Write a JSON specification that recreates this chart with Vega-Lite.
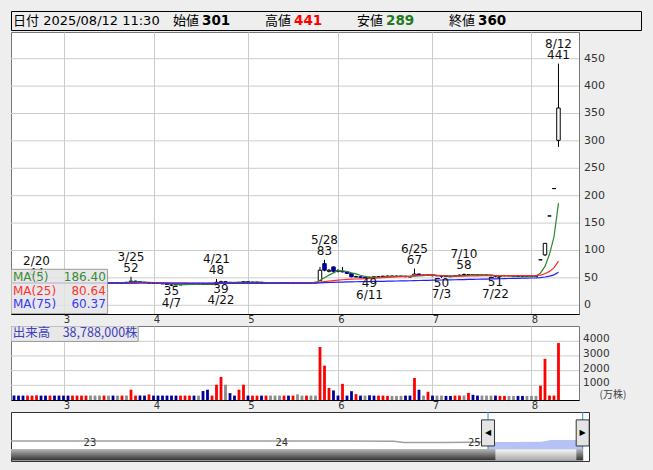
{
"$schema": "https://vega.github.io/schema/vega-lite/v6.json",
"background": "#eeeeee",
"padding": {"left": 10, "top": 10, "right": 13, "bottom": 11},
"spacing": 0,
"resolve": {"scale": {"color": "independent", "x": "independent", "y": "independent"}},
"config": {
  "view": {"stroke": null},
  "scale": {"continuousPadding": 0},
  "axis": {"labelFont": "DejaVu Sans", "labelFontSize": 11, "labelColor": "#333333", "ticks": false, "tickSize": 0, "domain": false, "gridColor": "#cccccc", "gridWidth": 1, "title": null, "labelOverlap": false, "labelFlush": false},
  "text": {"font": "DejaVu Sans"}
},
"datasets": {
  "hdr": [{"k": "始値", "v": "301"}, {"k": "高値", "v": "441"}, {"k": "安値", "v": "289"}, {"k": "終値", "v": "360"}],
  "pt": [{"t": 0}, {"t": 50}, {"t": 100}, {"t": 150}, {"t": 200}, {"t": 250}, {"t": 300}, {"t": 350}, {"t": 400}, {"t": 450}],
  "vt": [{"t": 1000}, {"t": 2000}, {"t": 3000}, {"t": 4000}],
  "hi": [{"i": 5, "p": 44, "t": "2/20\n44"}, {"i": 26, "p": 52, "t": "3/25\n52"}, {"i": 45, "p": 48, "t": "4/21\n48"}, {"i": 69, "p": 83, "t": "5/28\n83"}, {"i": 89, "p": 67, "t": "6/25\n67"}, {"i": 100, "p": 58, "t": "7/10\n58"}, {"i": 121, "p": 441, "t": "8/12\n441"}],
  "lo": [{"i": 35, "p": 35, "t": "35\n4/7"}, {"i": 46, "p": 39, "t": "39\n4/22"}, {"i": 79, "p": 49, "t": "49\n6/11"}, {"i": 95, "p": 50, "t": "50\n7/3"}, {"i": 107, "p": 51, "t": "51\n7/22"}],
  "leg": [{"r": 1, "n": "MA(5)", "v": "186.40"}, {"r": 2, "n": "MA(25)", "v": "80.64"}, {"r": 3, "n": "MA(75)", "v": "60.37"}],
  "d": [
{"i":0,"d":"2/13","o":41,"h":42,"l":40,"c":41,"v":310,"vd":"d","m5":41,"m25":41,"m75":40.51},
{"i":1,"d":"2/14","o":41,"h":42,"l":41,"c":41,"v":300,"vd":"d","m5":41,"m25":41,"m75":40.51},
{"i":2,"d":"2/17","o":41,"h":41,"l":40,"c":40,"v":300,"vd":"d","m5":40.8,"m25":40.96,"m75":40.51},
{"i":3,"d":"2/18","o":40,"h":41,"l":40,"c":40,"v":300,"vd":"u","m5":40.6,"m25":40.92,"m75":40.51},
{"i":4,"d":"2/19","o":40,"h":41,"l":40,"c":41,"v":300,"vd":"u","m5":40.6,"m25":40.92,"m75":40.51},
{"i":5,"d":"2/20","o":41,"h":44,"l":41,"c":42,"v":320,"vd":"u","m5":40.8,"m25":40.96,"m75":40.53},
{"i":6,"d":"2/21","o":42,"h":42,"l":41,"c":41,"v":300,"vd":"d","m5":40.8,"m25":40.96,"m75":40.53},
{"i":7,"d":"2/25","o":41,"h":42,"l":41,"c":41,"v":300,"vd":"d","m5":41,"m25":40.96,"m75":40.53},
{"i":8,"d":"2/26","o":41,"h":41,"l":40,"c":40,"v":300,"vd":"u","m5":41,"m25":40.92,"m75":40.53},
{"i":9,"d":"2/27","o":40,"h":41,"l":40,"c":40,"v":300,"vd":"d","m5":40.8,"m25":40.88,"m75":40.53},
{"i":10,"d":"2/28","o":40,"h":41,"l":39,"c":40,"v":300,"vd":"d","m5":40.4,"m25":40.84,"m75":40.52},
{"i":11,"d":"3/3","o":40,"h":41,"l":40,"c":40,"v":300,"vd":"d","m5":40.2,"m25":40.8,"m75":40.52},
{"i":12,"d":"3/4","o":40,"h":40,"l":39,"c":40,"v":300,"vd":"d","m5":40,"m25":40.76,"m75":40.52},
{"i":13,"d":"3/5","o":40,"h":41,"l":40,"c":41,"v":300,"vd":"u","m5":40.2,"m25":40.76,"m75":40.52},
{"i":14,"d":"3/6","o":41,"h":41,"l":40,"c":41,"v":300,"vd":"u","m5":40.4,"m25":40.76,"m75":40.52},
{"i":15,"d":"3/7","o":41,"h":42,"l":41,"c":41,"v":300,"vd":"u","m5":40.6,"m25":40.76,"m75":40.53},
{"i":16,"d":"3/10","o":41,"h":41,"l":40,"c":40,"v":300,"vd":"u","m5":40.6,"m25":40.72,"m75":40.53},
{"i":17,"d":"3/11","o":40,"h":41,"l":40,"c":40,"v":300,"vd":"n","m5":40.6,"m25":40.68,"m75":40.53},
{"i":18,"d":"3/12","o":40,"h":41,"l":40,"c":40,"v":300,"vd":"n","m5":40.4,"m25":40.64,"m75":40.53},
{"i":19,"d":"3/13","o":40,"h":41,"l":40,"c":41,"v":300,"vd":"n","m5":40.4,"m25":40.64,"m75":40.53},
{"i":20,"d":"3/14","o":41,"h":41,"l":40,"c":41,"v":300,"vd":"u","m5":40.4,"m25":40.64,"m75":40.54},
{"i":21,"d":"3/17","o":41,"h":42,"l":41,"c":41,"v":300,"vd":"n","m5":40.6,"m25":40.64,"m75":40.54},
{"i":22,"d":"3/18","o":41,"h":41,"l":40,"c":41,"v":300,"vd":"d","m5":40.8,"m25":40.64,"m75":40.54},
{"i":23,"d":"3/19","o":41,"h":41,"l":40,"c":41,"v":300,"vd":"n","m5":41,"m25":40.64,"m75":40.54},
{"i":24,"d":"3/21","o":41,"h":42,"l":41,"c":41,"v":300,"vd":"u","m5":41,"m25":40.64,"m75":40.54},
{"i":25,"d":"3/24","o":41,"h":42,"l":41,"c":42,"v":300,"vd":"n","m5":41.2,"m25":40.68,"m75":40.57},
{"i":26,"d":"3/25","o":42,"h":52,"l":42,"c":44,"v":700,"vd":"u","m5":41.8,"m25":40.8,"m75":40.6},
{"i":27,"d":"3/26","o":44,"h":45,"l":43,"c":43,"v":300,"vd":"u","m5":42.2,"m25":40.92,"m75":40.62},
{"i":28,"d":"3/27","o":43,"h":43,"l":42,"c":42,"v":300,"vd":"d","m5":42.4,"m25":41,"m75":40.64},
{"i":29,"d":"3/28","o":42,"h":42,"l":41,"c":41,"v":300,"vd":"d","m5":42.4,"m25":41,"m75":40.65},
{"i":30,"d":"3/31","o":41,"h":41,"l":40,"c":40,"v":380,"vd":"u","m5":42,"m25":40.92,"m75":40.67},
{"i":31,"d":"4/1","o":40,"h":41,"l":40,"c":40,"v":300,"vd":"d","m5":41.2,"m25":40.88,"m75":40.65},
{"i":32,"d":"4/2","o":40,"h":41,"l":39,"c":40,"v":300,"vd":"d","m5":40.6,"m25":40.84,"m75":40.63},
{"i":33,"d":"4/3","o":40,"h":40,"l":39,"c":39,"v":300,"vd":"d","m5":40,"m25":40.8,"m75":40.6},
{"i":34,"d":"4/4","o":39,"h":39,"l":38,"c":38,"v":300,"vd":"d","m5":39.4,"m25":40.72,"m75":40.58},
{"i":35,"d":"4/7","o":37,"h":38,"l":35,"c":37,"v":300,"vd":"d","m5":38.8,"m25":40.6,"m75":40.55},
{"i":36,"d":"4/8","o":37,"h":38,"l":37,"c":38,"v":300,"vd":"d","m5":38.4,"m25":40.52,"m75":40.52},
{"i":37,"d":"4/9","o":38,"h":38,"l":37,"c":37,"v":300,"vd":"u","m5":37.8,"m25":40.4,"m75":40.49},
{"i":38,"d":"4/10","o":38,"h":39,"l":38,"c":39,"v":300,"vd":"u","m5":37.8,"m25":40.32,"m75":40.46},
{"i":39,"d":"4/11","o":39,"h":39,"l":38,"c":39,"v":300,"vd":"u","m5":38,"m25":40.24,"m75":40.43},
{"i":40,"d":"4/14","o":39,"h":40,"l":39,"c":39,"v":300,"vd":"d","m5":38.4,"m25":40.16,"m75":40.41},
{"i":41,"d":"4/15","o":39,"h":40,"l":39,"c":39,"v":300,"vd":"n","m5":38.6,"m25":40.12,"m75":40.39},
{"i":42,"d":"4/16","o":39,"h":39,"l":38,"c":38,"v":610,"vd":"d","m5":38.8,"m25":40.04,"m75":40.37},
{"i":43,"d":"4/17","o":38,"h":39,"l":38,"c":38,"v":700,"vd":"d","m5":38.6,"m25":39.96,"m75":40.35},
{"i":44,"d":"4/18","o":38,"h":39,"l":38,"c":39,"v":300,"vd":"u","m5":38.6,"m25":39.88,"m75":40.34},
{"i":45,"d":"4/21","o":40,"h":48,"l":40,"c":42,"v":1040,"vd":"u","m5":39.2,"m25":39.92,"m75":40.33},
{"i":46,"d":"4/22","o":41,"h":45,"l":39,"c":43,"v":1570,"vd":"u","m5":40,"m25":40,"m75":40.35},
{"i":47,"d":"4/23","o":43,"h":44,"l":42,"c":42,"v":1040,"vd":"n","m5":40.8,"m25":40.04,"m75":40.37},
{"i":48,"d":"4/24","o":42,"h":42,"l":41,"c":41,"v":470,"vd":"d","m5":41.4,"m25":40.04,"m75":40.38},
{"i":49,"d":"4/25","o":41,"h":42,"l":41,"c":41,"v":300,"vd":"d","m5":41.8,"m25":40.04,"m75":40.4},
{"i":50,"d":"4/28","o":41,"h":42,"l":41,"c":42,"v":700,"vd":"u","m5":41.8,"m25":40.04,"m75":40.41},
{"i":51,"d":"4/30","o":42,"h":44,"l":42,"c":43,"v":1040,"vd":"u","m5":41.8,"m25":40,"m75":40.43},
{"i":52,"d":"5/1","o":43,"h":43,"l":42,"c":42,"v":300,"vd":"d","m5":41.8,"m25":39.96,"m75":40.45},
{"i":53,"d":"5/2","o":42,"h":43,"l":42,"c":42,"v":300,"vd":"u","m5":42,"m25":39.96,"m75":40.47},
{"i":54,"d":"5/7","o":42,"h":43,"l":42,"c":42,"v":300,"vd":"u","m5":42.2,"m25":40,"m75":40.49},
{"i":55,"d":"5/8","o":42,"h":42,"l":41,"c":41,"v":300,"vd":"d","m5":42,"m25":40.04,"m75":40.51},
{"i":56,"d":"5/9","o":41,"h":42,"l":41,"c":41,"v":300,"vd":"u","m5":41.6,"m25":40.08,"m75":40.52},
{"i":57,"d":"5/12","o":41,"h":42,"l":41,"c":41,"v":300,"vd":"n","m5":41.4,"m25":40.12,"m75":40.53},
{"i":58,"d":"5/13","o":41,"h":42,"l":41,"c":41,"v":300,"vd":"n","m5":41.2,"m25":40.2,"m75":40.54},
{"i":59,"d":"5/14","o":41,"h":42,"l":41,"c":41,"v":300,"vd":"n","m5":41,"m25":40.32,"m75":40.55},
{"i":60,"d":"5/15","o":41,"h":42,"l":41,"c":41,"v":300,"vd":"u","m5":41,"m25":40.48,"m75":40.55},
{"i":61,"d":"5/16","o":41,"h":42,"l":41,"c":41,"v":300,"vd":"d","m5":41,"m25":40.6,"m75":40.56},
{"i":62,"d":"5/19","o":41,"h":42,"l":41,"c":41,"v":300,"vd":"u","m5":41,"m25":40.76,"m75":40.56},
{"i":63,"d":"5/20","o":41,"h":42,"l":40,"c":41,"v":380,"vd":"n","m5":41,"m25":40.84,"m75":40.57},
{"i":64,"d":"5/21","o":41,"h":42,"l":41,"c":41,"v":300,"vd":"n","m5":41,"m25":40.92,"m75":40.57},
{"i":65,"d":"5/22","o":41,"h":42,"l":41,"c":41,"v":300,"vd":"u","m5":41,"m25":41,"m75":40.58},
{"i":66,"d":"5/23","o":41,"h":42,"l":41,"c":41,"v":300,"vd":"n","m5":41,"m25":41.08,"m75":40.59},
{"i":67,"d":"5/26","o":41,"h":42,"l":41,"c":42,"v":300,"vd":"n","m5":41.2,"m25":41.24,"m75":40.61},
{"i":68,"d":"5/27","o":45,"h":70,"l":44,"c":64,"v":3610,"vd":"u","m5":45.8,"m25":42.28,"m75":40.92},
{"i":69,"d":"5/28","o":76,"h":83,"l":62,"c":64,"v":2340,"vd":"u","m5":50.4,"m25":43.28,"m75":41.23},
{"i":70,"d":"5/29","o":62,"h":66,"l":60,"c":64,"v":820,"vd":"u","m5":55,"m25":44.16,"m75":41.55},
{"i":71,"d":"5/30","o":70,"h":71,"l":60,"c":62,"v":650,"vd":"d","m5":59.2,"m25":44.92,"m75":41.83},
{"i":72,"d":"6/2","o":62,"h":66,"l":60,"c":63,"v":300,"vd":"d","m5":63.4,"m25":45.76,"m75":42.13},
{"i":73,"d":"6/3","o":62,"h":70,"l":60,"c":61,"v":1100,"vd":"u","m5":62.8,"m25":46.56,"m75":42.41},
{"i":74,"d":"6/4","o":61,"h":62,"l":57,"c":58,"v":300,"vd":"d","m5":61.6,"m25":47.24,"m75":42.64},
{"i":75,"d":"6/5","o":58,"h":59,"l":51,"c":52,"v":600,"vd":"d","m5":59.2,"m25":47.64,"m75":42.79},
{"i":76,"d":"6/6","o":52,"h":54,"l":51,"c":52,"v":400,"vd":"u","m5":57.2,"m25":48,"m75":42.93},
{"i":77,"d":"6/9","o":52,"h":53,"l":50,"c":51,"v":300,"vd":"d","m5":54.8,"m25":48.36,"m75":43.08},
{"i":78,"d":"6/10","o":51,"h":52,"l":50,"c":50,"v":300,"vd":"n","m5":52.6,"m25":48.68,"m75":43.21},
{"i":79,"d":"6/11","o":50,"h":52,"l":49,"c":51,"v":320,"vd":"d","m5":51.2,"m25":49.04,"m75":43.35},
{"i":80,"d":"6/12","o":51,"h":53,"l":50,"c":52,"v":300,"vd":"d","m5":51.2,"m25":49.48,"m75":43.48},
{"i":81,"d":"6/13","o":52,"h":53,"l":51,"c":52,"v":300,"vd":"u","m5":51.2,"m25":49.92,"m75":43.63},
{"i":82,"d":"6/16","o":52,"h":54,"l":51,"c":53,"v":300,"vd":"u","m5":51.6,"m25":50.4,"m75":43.79},
{"i":83,"d":"6/17","o":53,"h":54,"l":52,"c":53,"v":280,"vd":"u","m5":52.2,"m25":50.88,"m75":43.96},
{"i":84,"d":"6/18","o":53,"h":54,"l":52,"c":53,"v":280,"vd":"n","m5":52.6,"m25":51.36,"m75":44.13},
{"i":85,"d":"6/19","o":53,"h":54,"l":52,"c":53,"v":280,"vd":"n","m5":52.8,"m25":51.84,"m75":44.31},
{"i":86,"d":"6/20","o":53,"h":54,"l":52,"c":53,"v":280,"vd":"n","m5":53,"m25":52.32,"m75":44.48},
{"i":87,"d":"6/23","o":53,"h":54,"l":52,"c":52,"v":300,"vd":"d","m5":52.8,"m25":52.76,"m75":44.64},
{"i":88,"d":"6/24","o":52,"h":53,"l":51,"c":52,"v":300,"vd":"d","m5":52.6,"m25":53.2,"m75":44.79},
{"i":89,"d":"6/25","o":54,"h":67,"l":53,"c":57,"v":1500,"vd":"u","m5":53.4,"m25":53.84,"m75":45},
{"i":90,"d":"6/26","o":57,"h":58,"l":54,"c":55,"v":700,"vd":"d","m5":53.8,"m25":54.4,"m75":45.19},
{"i":91,"d":"6/27","o":55,"h":56,"l":54,"c":55,"v":300,"vd":"n","m5":54.2,"m25":54.96,"m75":45.39},
{"i":92,"d":"6/30","o":55,"h":57,"l":54,"c":56,"v":560,"vd":"u","m5":55,"m25":55.52,"m75":45.6},
{"i":93,"d":"7/1","o":56,"h":56,"l":53,"c":54,"v":300,"vd":"d","m5":55.4,"m25":55.12,"m75":45.79},
{"i":94,"d":"7/2","o":54,"h":55,"l":53,"c":54,"v":300,"vd":"n","m5":54.8,"m25":54.72,"m75":45.96},
{"i":95,"d":"7/3","o":54,"h":55,"l":50,"c":53,"v":300,"vd":"n","m5":54.4,"m25":54.28,"m75":46.12},
{"i":96,"d":"7/4","o":53,"h":54,"l":52,"c":53,"v":280,"vd":"d","m5":54,"m25":53.92,"m75":46.28},
{"i":97,"d":"7/7","o":53,"h":54,"l":52,"c":52,"v":280,"vd":"d","m5":53.2,"m25":53.48,"m75":46.43},
{"i":98,"d":"7/8","o":53,"h":55,"l":52,"c":54,"v":300,"vd":"u","m5":53.2,"m25":53.2,"m75":46.6},
{"i":99,"d":"7/9","o":54,"h":56,"l":53,"c":55,"v":300,"vd":"u","m5":53.4,"m25":53.08,"m75":46.79},
{"i":100,"d":"7/10","o":55,"h":58,"l":54,"c":56,"v":300,"vd":"n","m5":54,"m25":53.24,"m75":46.97},
{"i":101,"d":"7/11","o":56,"h":57,"l":54,"c":56,"v":480,"vd":"u","m5":54.6,"m25":53.4,"m75":47.13},
{"i":102,"d":"7/14","o":56,"h":57,"l":55,"c":56,"v":350,"vd":"d","m5":55.4,"m25":53.6,"m75":47.31},
{"i":103,"d":"7/15","o":56,"h":56,"l":54,"c":55,"v":300,"vd":"d","m5":55.6,"m25":53.8,"m75":47.48},
{"i":104,"d":"7/16","o":55,"h":56,"l":54,"c":55,"v":300,"vd":"n","m5":55.6,"m25":53.96,"m75":47.67},
{"i":105,"d":"7/17","o":55,"h":56,"l":54,"c":55,"v":300,"vd":"n","m5":55.4,"m25":54.08,"m75":47.87},
{"i":106,"d":"7/18","o":55,"h":55,"l":53,"c":54,"v":300,"vd":"n","m5":55,"m25":54.16,"m75":48.05},
{"i":107,"d":"7/22","o":54,"h":54,"l":51,"c":53,"v":300,"vd":"d","m5":54.4,"m25":54.16,"m75":48.23},
{"i":108,"d":"7/23","o":53,"h":55,"l":52,"c":54,"v":280,"vd":"u","m5":54.2,"m25":54.2,"m75":48.43},
{"i":109,"d":"7/24","o":54,"h":55,"l":53,"c":54,"v":280,"vd":"u","m5":54,"m25":54.24,"m75":48.64},
{"i":110,"d":"7/25","o":54,"h":55,"l":53,"c":54,"v":280,"vd":"n","m5":53.8,"m25":54.28,"m75":48.87},
{"i":111,"d":"7/28","o":54,"h":54,"l":53,"c":53,"v":280,"vd":"n","m5":53.6,"m25":54.28,"m75":49.07},
{"i":112,"d":"7/29","o":53,"h":54,"l":52,"c":53,"v":280,"vd":"d","m5":53.6,"m25":54.32,"m75":49.28},
{"i":113,"d":"7/30","o":53,"h":54,"l":52,"c":53,"v":280,"vd":"d","m5":53.4,"m25":54.36,"m75":49.47},
{"i":114,"d":"7/31","o":53,"h":54,"l":52,"c":53,"v":280,"vd":"n","m5":53.2,"m25":54.2,"m75":49.65},
{"i":115,"d":"8/1","o":53,"h":54,"l":52,"c":53,"v":280,"vd":"n","m5":53,"m25":54.12,"m75":49.84},
{"i":116,"d":"8/4","o":53,"h":54,"l":52,"c":53,"v":280,"vd":"n","m5":53,"m25":54.04,"m75":50.03},
{"i":117,"d":"8/5","o":83,"h":83,"l":83,"c":83,"v":975,"vd":"u","m5":59,"m25":55.12,"m75":50.63},
{"i":118,"d":"8/6","o":92,"h":113,"l":90,"c":113,"v":2800,"vd":"u","m5":71,"m25":57.48,"m75":51.63},
{"i":119,"d":"8/7","o":163,"h":163,"l":163,"c":163,"v":300,"vd":"u","m5":93,"m25":61.84,"m75":53.28},
{"i":120,"d":"8/8","o":213,"h":213,"l":213,"c":213,"v":300,"vd":"u","m5":125,"m25":68.24,"m75":55.56},
{"i":121,"d":"8/12","o":301,"h":441,"l":289,"c":360,"v":3879,"vd":"u","m5":186.4,"m25":80.64,"m75":60.37}
  ],
  "nav": [{"d":"2022-08-04","v":42},{"d":"2022-11-01","v":42},{"d":"2023-02-01","v":42},{"d":"2023-05-01","v":42},{"d":"2023-08-01","v":42},{"d":"2023-11-01","v":42},{"d":"2024-02-01","v":42},{"d":"2024-05-01","v":42},{"d":"2024-08-01","v":41},{"d":"2024-08-20","v":35},{"d":"2024-11-01","v":35},{"d":"2025-01-01","v":36},{"d":"2025-01-27","v":37}],
  "sel": [{"d":"2025-01-27","v":37},{"d":"2025-03-01","v":37},{"d":"2025-05-08","v":38},{"d":"2025-05-27","v":48},{"d":"2025-07-26","v":48}],
  "handles": [{"d":"2025-01-27","g":"◀"},{"d":"2025-07-26","g":"▶"}],
  "years": [{"d":"2023-01-01","t":"23"},{"d":"2024-01-01","t":"24"},{"d":"2025-01-01","t":"25"}]
},
"vconcat": [
  {
    "width": 630, "height": 19,
    "view": {"fill": "#eeeeee", "stroke": "#000000"},
    "data": {"name": "hdr"},
    "layer": [
      {"mark": {"type": "text", "align": "left", "baseline": "middle", "fontSize": 13, "font": "Noto Sans CJK JP", "color": "#000000", "clip": true},
       "encoding": {"x": {"field": "k", "type": "nominal", "scale": {"type": "point", "domain": ["始値","高値","安値","終値"], "range": [162, 438], "padding": 0}, "axis": null}, "text": {"field": "k"}}},
      {"mark": {"type": "text", "align": "left", "baseline": "middle", "dx": 29, "fontSize": 13.5, "fontWeight": "bold", "font": "DejaVu Sans", "clip": true},
       "encoding": {"x": {"field": "k", "type": "nominal", "axis": null}, "text": {"field": "v"},
         "color": {"field": "k", "type": "nominal", "scale": {"domain": ["始値","高値","安値","終値"], "range": ["#000000","#ff0000","#1e7b1e","#000000"]}, "legend": null}}},
      {"data": {"values": [{"k": "始値", "t": "日付 2025/08/12 11:30"}]},
       "mark": {"type": "text", "align": "left", "baseline": "middle", "dx": -160, "fontSize": 13, "font": "DejaVu Sans, Noto Sans CJK JP", "color": "#000000", "clip": true},
       "encoding": {"x": {"field": "k", "type": "nominal", "axis": null}, "text": {"field": "t"}}}
    ]
  },
  {
    "width": 568, "height": 282,
    "view": {"fill": "#ffffff", "stroke": "#777777"},
    "layer": [
      {
        "layer": [
          {"data": {"name": "pt"},
           "mark": {"type": "rule", "color": "#cccccc", "strokeWidth": 1, "clip": true},
           "encoding": {
             "x": {"datum": -0.67, "type": "quantitative", "scale": {"domain": [-0.67, 125.56], "nice": false, "zero": false, "padding": 0},
                   "axis": {"values": [11,31,52,72,93,115], "labelExpr": "datum.value==11?'3':datum.value==31?'4':datum.value==52?'5':datum.value==72?'6':datum.value==93?'7':'8'", "grid": true, "labelAlign": "center", "labelOffset": 3, "labelPadding": 0, "labelFontSize": 10, "domain": true, "domainColor": "#000000"}},
             "x2": {"datum": 125.56},
             "y": {"field": "t", "type": "quantitative", "scale": {"domain": [-15.9, 498.7], "nice": false, "zero": false, "padding": 0}, "axis": null}
           }},
          {"data": {"name": "pt"},
           "mark": {"type": "text", "align": "left", "baseline": "middle", "dx": 5, "fontSize": 11, "color": "#333333"},
           "encoding": {"x": {"datum": 125.56, "type": "quantitative"}, "y": {"field": "t", "type": "quantitative"}, "text": {"field": "t"}}},
          {"data": {"name": "d"},
           "mark": {"type": "rule", "color": "#000000", "strokeWidth": 1, "clip": true},
           "encoding": {"x": {"field": "i", "type": "quantitative"}, "y": {"field": "l", "type": "quantitative"}, "y2": {"field": "h"}}},
          {"data": {"name": "d"},
           "mark": {"type": "bar", "width": 3.5, "strokeWidth": 1, "clip": true},
           "encoding": {
             "x": {"field": "i", "type": "quantitative"},
             "y": {"field": "o", "type": "quantitative"},
             "y2": {"field": "c"},
             "fill": {"condition": {"test": "datum.c < datum.o", "value": "#000099"}, "value": "#ffffff"},
             "stroke": {"condition": {"test": "datum.c < datum.o", "value": "#000099"}, "value": "#000000"}
           }},
          {"data": {"name": "d"}, "mark": {"type": "line", "color": "#2a8a2a", "strokeWidth": 1.2, "clip": true},
           "encoding": {"x": {"field": "i", "type": "quantitative"}, "y": {"field": "m5", "type": "quantitative"}}},
          {"data": {"name": "d"}, "mark": {"type": "line", "color": "#ff2a2a", "strokeWidth": 1.2, "clip": true},
           "encoding": {"x": {"field": "i", "type": "quantitative"}, "y": {"field": "m25", "type": "quantitative"}}},
          {"data": {"name": "d"}, "mark": {"type": "line", "color": "#2020ff", "strokeWidth": 1.2, "clip": true},
           "encoding": {"x": {"field": "i", "type": "quantitative"}, "y": {"field": "m75", "type": "quantitative"}}},
          {"data": {"name": "hi"},
           "mark": {"type": "text", "lineBreak": "\n", "baseline": "bottom", "dy": -13, "fontSize": 12, "lineHeight": 11.5, "color": "#111111", "clip": true},
           "encoding": {"x": {"field": "i", "type": "quantitative"}, "y": {"field": "p", "type": "quantitative"}, "text": {"field": "t"}}},
          {"data": {"name": "lo"},
           "mark": {"type": "text", "lineBreak": "\n", "baseline": "top", "dy": 0, "fontSize": 12, "lineHeight": 11.5, "color": "#111111", "clip": true},
           "encoding": {"x": {"field": "i", "type": "quantitative"}, "y": {"field": "p", "type": "quantitative"}, "text": {"field": "t"}}}
        ]
      },
      {
        "layer": [
          {"data": {"values": [{}]},
           "mark": {"type": "rect", "fill": "#e4e4e4", "fillOpacity": 0.85, "stroke": "#999999", "strokeWidth": 1, "clip": true},
           "encoding": {
             "x": {"datum": -0.67, "type": "quantitative"}, "x2": {"datum": 20.8},
             "y": {"datum": 0.44, "type": "quantitative", "scale": {"domain": [-16.92, 3.71], "reverse": true, "nice": false, "zero": false, "padding": 0}, "axis": null},
             "y2": {"datum": 3.69}
           }},
          {"data": {"name": "leg"},
           "mark": {"type": "text", "align": "left", "baseline": "middle", "fontSize": 12, "clip": true},
           "encoding": {"x": {"datum": -0.25, "type": "quantitative"}, "y": {"field": "r", "type": "quantitative", "axis": null}, "text": {"field": "n"},
             "color": {"field": "n", "type": "nominal", "scale": {"domain": ["MA(5)","MA(25)","MA(75)"], "range": ["#3a8a3a","#ff3333","#3838ff"]}, "legend": null}}},
          {"data": {"name": "leg"},
           "mark": {"type": "text", "align": "right", "baseline": "middle", "fontSize": 12, "clip": true},
           "encoding": {"x": {"datum": 20.4, "type": "quantitative"}, "y": {"field": "r", "type": "quantitative", "axis": null}, "text": {"field": "v"},
             "color": {"field": "n", "type": "nominal", "legend": null}}}
        ]
      }
    ],
    "resolve": {"scale": {"y": "independent"}}
  },
  {
    "width": 568, "height": 74,
    "view": {"fill": "#ffffff", "stroke": "#777777"},
    "layer": [
      {"data": {"name": "vt"},
       "mark": {"type": "rule", "color": "#cccccc", "strokeWidth": 1, "clip": true},
       "encoding": {
         "x": {"datum": -0.67, "type": "quantitative", "scale": {"domain": [-0.67, 125.56], "nice": false, "zero": false, "padding": 0},
               "axis": {"values": [11,31,52,72,93,115], "labelExpr": "datum.value==11?'3':datum.value==31?'4':datum.value==52?'5':datum.value==72?'6':datum.value==93?'7':'8'", "grid": true, "labelAlign": "center", "labelOffset": 3, "labelPadding": 0, "labelFontSize": 10, "domain": true, "domainColor": "#000000"}},
         "x2": {"datum": 125.56},
         "y": {"field": "t", "type": "quantitative", "scale": {"domain": [0, 5040], "nice": false, "padding": 0},
               "axis": {"orient": "right", "values": [1000], "labels": false, "grid": false,
                        "title": "(万株)", "titleAngle": 0, "titleAlign": "left", "titleBaseline": "middle", "titleX": 20, "titleY": 68, "titleFontSize": 10, "titleFontWeight": "normal", "titleFont": "Noto Sans CJK JP", "titleColor": "#444444"}}
       }},
      {"data": {"name": "vt"},
       "mark": {"type": "text", "align": "left", "baseline": "middle", "dx": 4, "dy": -2, "fontSize": 10.5, "color": "#333333"},
       "encoding": {"x": {"datum": 125.56, "type": "quantitative"}, "y": {"field": "t", "type": "quantitative"}, "text": {"field": "t"}}},
      {"data": {"name": "d"},
       "mark": {"type": "bar", "width": 2.8, "clip": true},
       "encoding": {
         "x": {"field": "i", "type": "quantitative"},
         "y": {"field": "v", "type": "quantitative"},
         "color": {"field": "vd", "type": "nominal", "scale": {"domain": ["u","d","n"], "range": ["#ff0000","#000099","#8c8c8c"]}, "legend": null}
       }},
      {"data": {"values": [{}]},
       "mark": {"type": "rect", "fill": "#e8e8e8", "stroke": "#999999", "strokeWidth": 1, "clip": true},
       "encoding": {"x": {"datum": -0.67, "type": "quantitative"}, "x2": {"datum": 27.6}, "y": {"datum": 5040, "type": "quantitative"}, "y2": {"datum": 3990}}},
      {"data": {"values": [{"t": "出来高　38,788,000株"}]},
       "mark": {"type": "text", "align": "left", "baseline": "middle", "font": "Noto Sans CJK JP", "fontSize": 12.5, "color": "#4040c0", "clip": true},
       "encoding": {"x": {"datum": -0.3, "type": "quantitative"}, "y": {"datum": 4540, "type": "quantitative"}, "text": {"field": "t"}}}
    ]
  },
  {
    "width": 578, "height": 49,
    "view": {"fill": "#ffffff", "stroke": "#333333"},
    "layer": [
      {"data": {"values": [{"s": "2022-08-04", "e": "2025-07-27"}]},
       "mark": {"type": "bar", "clip": true, "color": {"gradient": "linear", "x1": 0, "y1": 0, "x2": 0, "y2": 1, "stops": [{"offset": 0, "color": "#b8b8b8"}, {"offset": 1, "color": "#303030"}]}},
       "encoding": {
         "x": {"field": "s", "type": "temporal", "scale": {"domain": [{"year": 2022, "month": 8, "date": 4}, {"year": 2025, "month": 8, "date": 7}], "padding": 0}, "axis": null},
         "x2": {"field": "e"},
         "y": {"datum": 0, "type": "quantitative", "scale": {"domain": [-64, 197], "nice": false, "zero": false, "padding": 0}, "axis": null},
         "y2": {"datum": -62}
       }},
      {"data": {"values": [{"s": "2025-02-10", "e": "2025-07-14"}]},
       "mark": {"type": "bar", "clip": true, "color": {"gradient": "linear", "x1": 0, "y1": 0, "x2": 0, "y2": 1, "stops": [{"offset": 0, "color": "#f6f6f6"}, {"offset": 1, "color": "#a8a8a8"}]}},
       "encoding": {"x": {"field": "s", "type": "temporal"}, "x2": {"field": "e"}, "y": {"datum": -1, "type": "quantitative"}, "y2": {"datum": -61}}},
      {"data": {"name": "sel"},
       "mark": {"type": "area", "color": "#b4c2f6", "opacity": 1, "clip": true},
       "encoding": {"x": {"field": "d", "type": "temporal"}, "y": {"field": "v", "type": "quantitative"}, "y2": {"datum": 0}}},
      {"data": {"name": "nav"},
       "mark": {"type": "line", "color": "#a0a0a0", "strokeWidth": 1.5, "clip": true},
       "encoding": {"x": {"field": "d", "type": "temporal"}, "y": {"field": "v", "type": "quantitative"}}},
      {"data": {"name": "years"},
       "mark": {"type": "text", "fontSize": 10, "baseline": "middle", "color": "#333333", "clip": true},
       "encoding": {"x": {"field": "d", "type": "temporal"}, "y": {"datum": 33, "type": "quantitative"}, "text": {"field": "t"}}},
      {"data": {"name": "handles"},
       "mark": {"type": "rule", "color": "#1e9be0", "strokeWidth": 1, "clip": true},
       "encoding": {"x": {"field": "d", "type": "temporal"}, "y": {"datum": 0, "type": "quantitative"}, "y2": {"datum": 197}}},
      {"data": {"name": "handles"},
       "mark": {"type": "bar", "width": 13, "fill": "#e4e4e4", "stroke": "#333333", "strokeWidth": 1, "clip": true},
       "encoding": {"x": {"field": "d", "type": "temporal"}, "y": {"datum": 16, "type": "quantitative"}, "y2": {"datum": 155}}},
      {"data": {"name": "handles"},
       "mark": {"type": "text", "fontSize": 8, "baseline": "middle", "color": "#000000", "clip": true},
       "encoding": {"x": {"field": "d", "type": "temporal"}, "y": {"datum": 85, "type": "quantitative"}, "text": {"field": "g"}}}
    ]
  }
]
}
